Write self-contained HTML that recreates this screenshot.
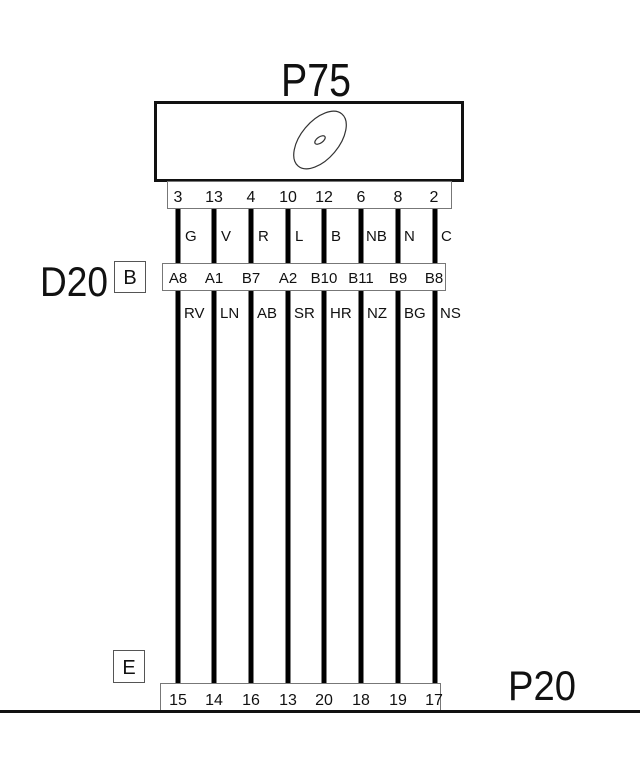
<!DOCTYPE html>
<html><head><style>
body{margin:0;background:#fff;}
svg text{font-family:"Liberation Sans",sans-serif;fill:#111;}
</style></head><body>
<svg width="640" height="768" viewBox="0 0 640 768" xmlns="http://www.w3.org/2000/svg">
<rect width="640" height="768" fill="#fff"/>
<text x="316" y="96" font-size="46" text-anchor="middle" textLength="70" lengthAdjust="spacingAndGlyphs">P75</text>
<rect x="155.5" y="102.5" width="307" height="78" fill="none" stroke="#111" stroke-width="3"/>
<ellipse cx="320" cy="140" rx="34" ry="19" transform="rotate(-50 320 140)" fill="none" stroke="#333" stroke-width="1.2"/>
<ellipse cx="320" cy="140" rx="6" ry="3" transform="rotate(-35 320 140)" fill="none" stroke="#333" stroke-width="1.2"/>
<rect x="167.5" y="181.5" width="284" height="27" fill="none" stroke="#777" stroke-width="1"/>
<g font-size="16" text-anchor="middle">
<text x="178" y="202">3</text><text x="214" y="202">13</text><text x="251" y="202">4</text><text x="288" y="202">10</text><text x="324" y="202">12</text><text x="361" y="202">6</text><text x="398" y="202">8</text><text x="434" y="202">2</text>
</g>
<g stroke="#000" stroke-width="5">
<line x1="178" y1="209" x2="178" y2="264"/><line x1="214" y1="209" x2="214" y2="264"/><line x1="251" y1="209" x2="251" y2="264"/><line x1="288" y1="209" x2="288" y2="264"/><line x1="324" y1="209" x2="324" y2="264"/><line x1="361" y1="209" x2="361" y2="264"/><line x1="398" y1="209" x2="398" y2="264"/><line x1="435" y1="209" x2="435" y2="264"/>
<line x1="178" y1="291" x2="178" y2="684"/><line x1="214" y1="291" x2="214" y2="684"/><line x1="251" y1="291" x2="251" y2="684"/><line x1="288" y1="291" x2="288" y2="684"/><line x1="324" y1="291" x2="324" y2="684"/><line x1="361" y1="291" x2="361" y2="684"/><line x1="398" y1="291" x2="398" y2="684"/><line x1="435" y1="291" x2="435" y2="684"/>
</g>
<g font-size="15">
<text x="185" y="241">G</text><text x="221" y="241">V</text><text x="258" y="241">R</text><text x="295" y="241">L</text><text x="331" y="241">B</text><text x="366" y="241">NB</text><text x="404" y="241">N</text><text x="441" y="241">C</text>
<text x="184" y="318">RV</text><text x="220" y="318">LN</text><text x="257" y="318">AB</text><text x="294" y="318">SR</text><text x="330" y="318">HR</text><text x="367" y="318">NZ</text><text x="404" y="318">BG</text><text x="440" y="318">NS</text>
</g>
<text x="40" y="296" font-size="42" textLength="68" lengthAdjust="spacingAndGlyphs">D20</text>
<rect x="114.5" y="261.5" width="31" height="31" fill="none" stroke="#555" stroke-width="1"/>
<text x="130" y="284" font-size="20" text-anchor="middle">B</text>
<rect x="162.5" y="263.5" width="283" height="27" fill="#fff" stroke="#777" stroke-width="1"/>
<g font-size="15" text-anchor="middle">
<text x="178" y="283">A8</text><text x="214" y="283">A1</text><text x="251" y="283">B7</text><text x="288" y="283">A2</text><text x="324" y="283">B10</text><text x="361" y="283">B11</text><text x="398" y="283">B9</text><text x="434" y="283">B8</text>
</g>
<rect x="113.5" y="650.5" width="31" height="32" fill="none" stroke="#555" stroke-width="1"/>
<text x="129" y="674" font-size="20" text-anchor="middle">E</text>
<rect x="160.5" y="683.5" width="280" height="27" fill="#fff" stroke="#777" stroke-width="1"/>
<g font-size="16" text-anchor="middle">
<text x="178" y="705">15</text><text x="214" y="705">14</text><text x="251" y="705">16</text><text x="288" y="705">13</text><text x="324" y="705">20</text><text x="361" y="705">18</text><text x="398" y="705">19</text><text x="434" y="705">17</text>
</g>
<text x="508" y="700" font-size="42" textLength="68" lengthAdjust="spacingAndGlyphs">P20</text>
<line x1="0" y1="711.5" x2="640" y2="711.5" stroke="#111" stroke-width="3"/>
</svg>
</body></html>
